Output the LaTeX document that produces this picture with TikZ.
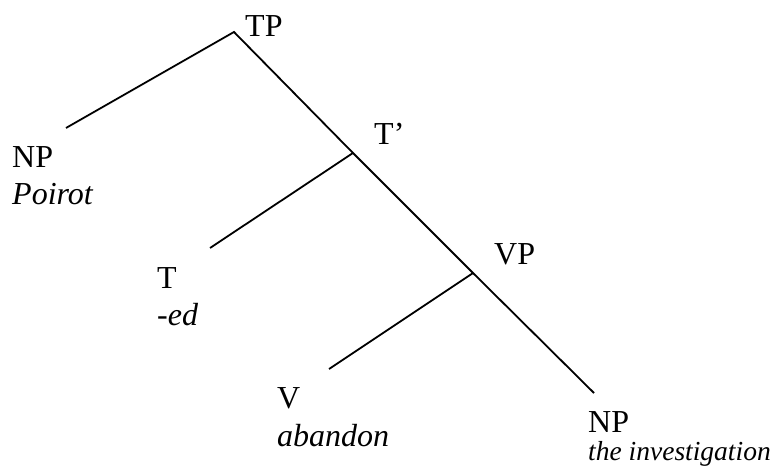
\documentclass[tikz,border=0pt]{standalone}
\usepackage{fontspec}
\setmainfont{Liberation Serif}
\begin{document}
\begin{tikzpicture}[x=1pt,y=-1pt,
  branch/.style={line width=1.8pt, black},
  lab/.style={anchor=base west, inner sep=0pt, font=\fontsize{32}{38}\selectfont},
  word/.style={anchor=base west, inner sep=0pt, font=\fontsize{32}{38}\selectfont\itshape},
  smallword/.style={anchor=base west, inner sep=0pt, font=\fontsize{27.5}{33}\selectfont\itshape}]
\useasboundingbox (0,0) rectangle (771,473);
% tree points
\coordinate (tp) at (234,32);
\coordinate (np1) at (66,128);
\coordinate (tbar) at (353,153);
\coordinate (t) at (210,248);
\coordinate (vp) at (473,273);
\coordinate (v) at (329,369);
\coordinate (np2) at (594,393);
% branches
\draw[branch] (np1) -- (tp) -- (tbar) -- (vp) -- (np2);
\draw[branch] (tbar) -- (t);
\draw[branch] (vp) -- (v);
% labels
\node[lab] (tpl) at (245,37) {TP};
\node[lab] (np1l) at (12,168) {NP};
\node[word] (poirot) at (12,205) {Poirot};
\node[lab] (tbarl) at (374,145) {T’};
\node[lab] (tl) at (157,288) {T};
\node[lab] (edl) at (157,325) {-\textit{ed}};
\node[lab] (vpl) at (494,265) {VP};
\node[lab] (vl) at (277,408) {V};
\node[word] (aband) at (277,446) {abandon};
\node[lab] (np2l) at (588,432) {NP};
\node[smallword] (inv) at (588,460) {the investigation};
\end{tikzpicture}
\end{document}
